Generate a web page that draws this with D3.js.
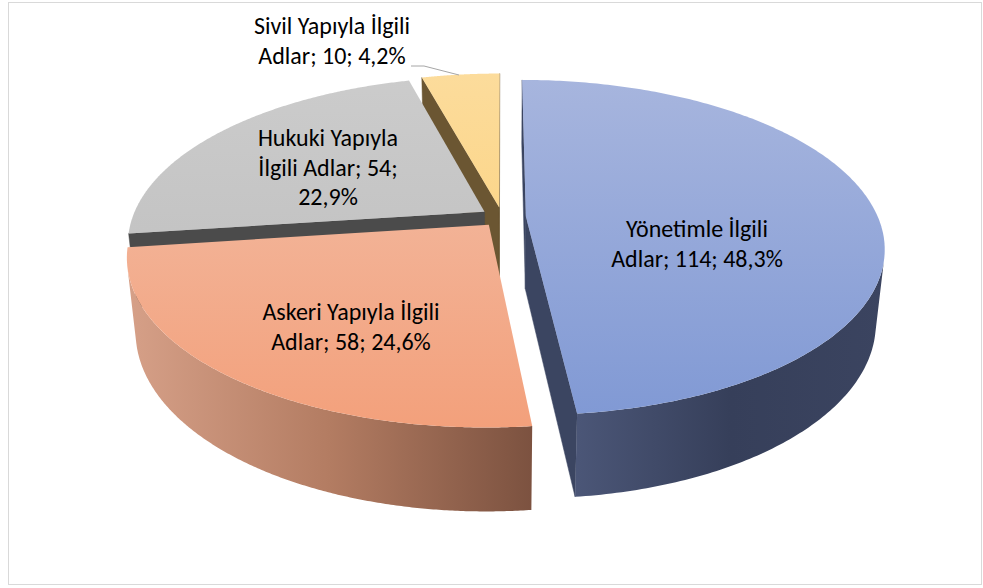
<!DOCTYPE html>
<html>
<head>
<meta charset="utf-8">
<script src="https://cdn.jsdelivr.net/npm/d3@7"></script>
<style>
  body { margin: 0; background: #fff; }
  text { font-family: Carlito, Calibri, Lato, sans-serif; }
</style>
</head>
<body>
<div id="viz"></div>
<script>
document.addEventListener("DOMContentLoaded", () => {

    // data
    const categories = ["Yönetimle İlgili Adlar", "Askeri Yapıyla İlgili Adlar", "Hukuki Yapıyla İlgili Adlar", "Sivil Yapıyla İlgili Adlar"]
    const values = [114, 58, 54, 10]
    // how many words go on each label line
    const wrapWords = [[2, 3], [3, 3], [2, 3, 1], [3, 3]]

    // colours
    const topColors = [["#a8b6de", "#7f98d4"], ["#f2c0aa", "#f3a07b"], ["#cccccc", "#bababa"], ["#fcdc9c", "#fbcd70"]]
    const wallColors = [["#4b5677", "#363f5a", "#3b4460"], ["#d6a088", "#b37c62", "#7c5240"], ["#4b4b4b", "#4b4b4b", "#4b4b4b"], ["#6b5632", "#6b5632", "#6b5632"]]
    const sideColors = ["#3b4561", "#8a5c47", "#4b4b4b", "#6b5632"]
    const explode = [0.068, 0.06, 0.06, 0.06]

    const width = 983
    const height = 588

    // 3d projection of a unit pie
    const cx = 502, cy = 217, F = 352
    const phi = 27.4 * Math.PI / 180, D = 4.79, H = 0.238
    const sp = Math.sin(phi), cp = Math.cos(phi)
    const cam = [0, -D * cp, D * sp]
    function proj(u, v, w) {
        const Y = v * sp + w * cp
        const Z = v * cp - w * sp
        const k = 1 / (1 + Z / D)
        return [cx + F * u * k, cy - F * Y * k]
    }

    const svg = d3.select("#viz").append("svg")
        .attr("width", width)
        .attr("height", height)

    svg.append("rect")
        .attr("x", 8.5).attr("y", 2.5)
        .attr("width", 973).attr("height", 582)
        .attr("fill", "#fff")
        .attr("stroke", "#d9d9d9")

    const defs = svg.append("defs")
    const total = d3.sum(values)
    const pct = v => d3.format(".1f")(v / total * 100).replace(".", ",") + "%"

    const arcs = d3.pie().sort(null).startAngle(0)(values)
    const line = d3.line()

    const slices = arcs.map((a, i) => {
        const mid = (a.startAngle + a.endAngle) / 2
        return {
            i: i,
            a0: a.startAngle,
            a1: a.endAngle,
            ox: explode[i] * Math.sin(mid),
            oy: explode[i] * Math.cos(mid),
            depth: Math.cos(mid)
        }
    })

    // gradients
    slices.forEach(s => {
        const g = defs.append("linearGradient")
            .attr("id", "top" + s.i)
            .attr("gradientUnits", "userSpaceOnUse")
            .attr("x1", 0).attr("y1", 70).attr("x2", 0).attr("y2", 430)
        g.append("stop").attr("offset", 0).attr("stop-color", topColors[s.i][0])
        g.append("stop").attr("offset", 1).attr("stop-color", topColors[s.i][1])
    })

    // draw far slices first
    const order = slices.slice().sort((a, b) => b.depth - a.depth)
    const N = 240

    order.forEach(s => {
        const g = svg.append("g")
        const O = [s.ox, s.oy]

        // radial walls
        const edges = [
            { a: s.a0, n: [-Math.cos(s.a0), Math.sin(s.a0)] },
            { a: s.a1, n: [Math.cos(s.a1), -Math.sin(s.a1)] }
        ]
        edges.forEach(e => {
            const vis = e.n[0] * (cam[0] - O[0]) + e.n[1] * (cam[1] - O[1])
            if (vis <= 0) return
            const ru = O[0] + Math.sin(e.a), rv = O[1] + Math.cos(e.a)
            const pts = [proj(O[0], O[1], 0), proj(ru, rv, 0), proj(ru, rv, -H), proj(O[0], O[1], -H)]
            g.append("path")
                .attr("d", line(pts) + "Z")
                .attr("fill", sideColors[s.i])
                .attr("stroke", sideColors[s.i])
                .attr("stroke-width", 0.5)
        })

        // outer wall, only the part facing the camera
        const angs = d3.range(N + 1).map(k => s.a0 + (s.a1 - s.a0) * k / N)
        const facing = a => -(s.ox * Math.sin(a) + s.oy * Math.cos(a)) - 1 - D * cp * Math.cos(a) > 0
        let runs = [], cur = []
        angs.forEach(a => {
            if (facing(a)) cur.push(a)
            else if (cur.length) { runs.push(cur); cur = [] }
        })
        if (cur.length) runs.push(cur)
        runs.forEach((r, j) => {
            if (r.length < 2) return
            const topPts = r.map(a => proj(O[0] + Math.sin(a), O[1] + Math.cos(a), 0))
            const botPts = r.map(a => proj(O[0] + Math.sin(a), O[1] + Math.cos(a), -H)).reverse()
            const xs = topPts.map(p => p[0])
            const gid = "wall" + s.i + "_" + j
            const gr = defs.append("linearGradient")
                .attr("id", gid)
                .attr("gradientUnits", "userSpaceOnUse")
                .attr("x1", d3.min(xs)).attr("y1", 0).attr("x2", d3.max(xs)).attr("y2", 0)
            wallColors[s.i].forEach((c, k) => {
                gr.append("stop").attr("offset", k / (wallColors[s.i].length - 1)).attr("stop-color", c)
            })
            g.append("path")
                .attr("d", line(topPts.concat(botPts)) + "Z")
                .attr("fill", "url(#" + gid + ")")
        })

        // top face
        const topFace = [proj(O[0], O[1], 0)].concat(angs.map(a => proj(O[0] + Math.sin(a), O[1] + Math.cos(a), 0)))
        g.append("path")
            .attr("d", line(topFace) + "Z")
            .attr("fill", "url(#top" + s.i + ")")
    })

    // labels
    const labelPos = [[697, 237], [351, 320], [328, 146], [332, 34]]
    const lineH = 29.5
    categories.forEach((c, i) => {
        const words = (c + "; " + values[i] + "; " + pct(values[i])).split(" ")
        let lines = [], k = 0
        wrapWords[i].forEach(n => { lines.push(words.slice(k, k + n).join(" ")); k += n })
        const t = svg.append("text")
            .attr("text-anchor", "middle")
            .attr("font-size", 24)
            .attr("fill", "#000")
        lines.forEach((l, j) => {
            t.append("tspan")
                .attr("x", labelPos[i][0])
                .attr("y", labelPos[i][1] + j * lineH)
                .text(l)
        })
    })

    // leader line for the small slice
    svg.append("path")
        .attr("d", line([[411, 66], [424, 66], [459, 75]]))
        .attr("fill", "none")
        .attr("stroke", "#a6a6a6")
        .attr("stroke-width", 1)

})
</script>
</body>
</html>
